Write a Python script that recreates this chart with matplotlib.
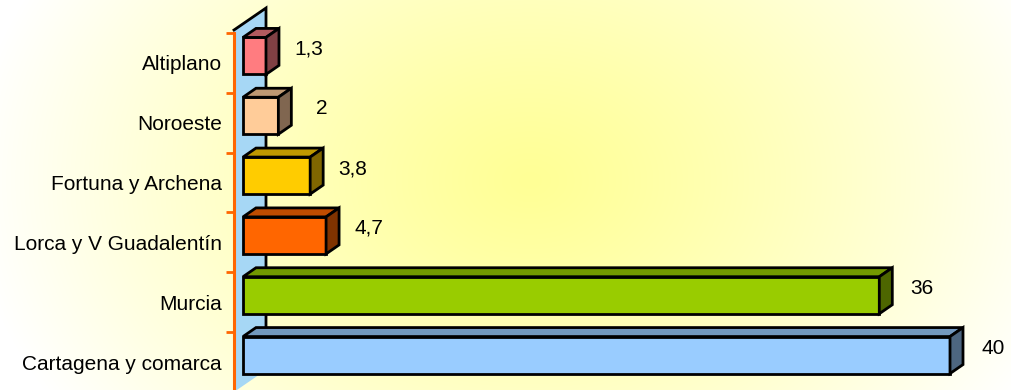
import numpy as np
import matplotlib.pyplot as plt
from matplotlib.patches import Polygon

plt.rcParams['font.family'] = ['Liberation Sans', 'DejaVu Sans']

# datos (de arriba a abajo)
comarcas = ['Altiplano', 'Noroeste', 'Fortuna y Archena', 'Lorca y V Guadalentín',
            'Murcia', 'Cartagena y comarca']
valores = [1.3, 2, 3.8, 4.7, 36, 40]
color_frente = ['#FF7C80', '#FFCC99', '#FFCC00', '#FF6600', '#99CC00', '#99CCFF']
color_arriba = ['#B35A5E', '#BF9973', '#BF9900', '#BF4C00', '#739900', '#7399BF']
color_lado = ['#804044', '#806650', '#806600', '#803300', '#4D6600', '#4D6680']

W, H = 1011, 390
fig = plt.figure(figsize=(W / 100, H / 100), dpi=100)

# fondo con degradado radial amarillo
yy, xx = np.mgrid[0:H, 0:W]
r = np.sqrt(((xx - 530) / 560) ** 2 + ((yy - 180) / 420) ** 2)
t = np.clip(r, 0, 1) ** 1.2
centro = np.array([255, 255, 150]) / 255
grad = centro[None, None, :] * (1 - t[..., None]) + 1.0 * t[..., None]
bg = fig.add_axes([0, 0, 1, 1], zorder=0)
bg.imshow(grad, aspect='auto', extent=[0, W, H, 0])
bg.axis('off')

# ejes: el eje vertical en x=234 px, borde superior en y=33 px
px_x = 17.675   # px por unidad
px_y = 59.83    # px por categoria
ax_left, ax_top = 234, 33
ax = fig.add_axes([ax_left / W, 0, (W - ax_left) / W, (H - ax_top) / H], zorder=1)
ax.set_facecolor('none')
ax.set_xlim(0, (W - ax_left) / px_x)
ax.set_ylim(5.5 - (H - ax_top) / px_y, 5.5)

n = len(comarcas)
ypos = np.arange(n)[::-1]

# pared lateral (profundidad)
dxw, dyw = 32 / px_x, 22 / px_y
y0, y1 = -0.5, 5.55
pared = Polygon([(0, y0), (0, y1), (dxw, y1 + dyw), (dxw, y0 + dyw)], closed=True,
                facecolor='#A6D7F5', edgecolor='none', clip_on=False, zorder=1)
ax.add_patch(pared)
ax.plot([0, dxw, dxw], [y1, y1 + dyw, y0 + dyw], color='black', lw=2,
        clip_on=False, zorder=2, solid_joinstyle='miter')

# barras 3D
ox, oy = 9 / px_x, 7 / px_y
dx, dy = 13 / px_x, 9 / px_y
h = 37 / px_y
for k in range(n):
    v = valores[k]
    yc = ypos[k] + oy
    xa, xb = ox, ox + v
    ya, yb = yc - h / 2, yc + h / 2
    caras = [
        ([(xa, ya), (xb, ya), (xb, yb), (xa, yb)], color_frente[k]),
        ([(xa, yb), (xb, yb), (xb + dx, yb + dy), (xa + dx, yb + dy)], color_arriba[k]),
        ([(xb, ya), (xb + dx, ya + dy), (xb + dx, yb + dy), (xb, yb)], color_lado[k]),
    ]
    for pts, c in caras:
        ax.add_patch(Polygon(pts, closed=True, facecolor=c, edgecolor='black',
                             lw=2, joinstyle='miter', clip_on=False, zorder=3))
    etiqueta = f'{v:g}'.replace('.', ',')
    ax.text(xb + 43 / px_x, yc + 7 / px_y, etiqueta, ha='center', va='center',
            fontsize=15, color='black', zorder=4)

# eje de categorias
ax.set_yticks(ypos)
ax.set_yticklabels(comarcas, fontsize=15)
ax.set_yticks(np.arange(n) + 0.5, minor=True)
ax.tick_params(axis='y', which='major', length=0, pad=8.6)
ax.tick_params(axis='y', which='minor', length=6, width=2, color='#FF6600', direction='out')
ax.set_xticks([])
for s in ['top', 'right', 'bottom']:
    ax.spines[s].set_visible(False)
ax.spines['left'].set_color('#FF6600')
ax.spines['left'].set_linewidth(2.2)
ax.spines['left'].set_zorder(5)

fig.savefig('out.png', dpi=100)
